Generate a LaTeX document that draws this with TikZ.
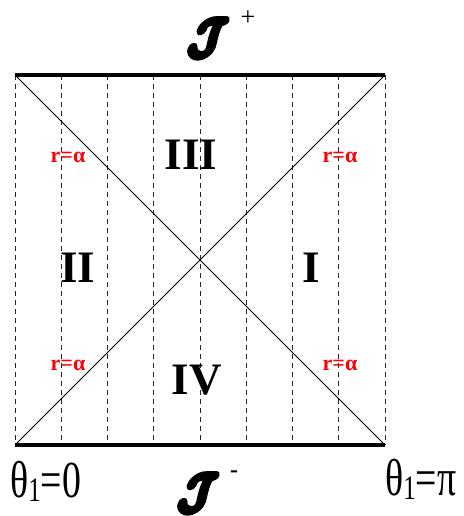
\documentclass[tikz,border=0pt]{standalone}
\usepackage{fontspec}
\setmainfont{Liberation Serif}
\usetikzlibrary{calc}
\newcommand{\scrJ}{\special{pdf:literal direct 2 Tr 1.1 w 1 j}\scalebox{4.3}[4.9]{\boldmath$\mathcal{J}$}\special{pdf:literal direct 0 Tr}}
\begin{document}
\begin{tikzpicture}[x=1pt,y=-1pt,
  edgeline/.style={line width=3.5pt},
  diag/.style={line width=0.9pt},
  gridline/.style={line width=0.8pt,dash pattern=on 5pt off 4pt,black!85},
  region/.style={font=\fontsize{45}{45}\selectfont\bfseries,inner sep=0pt},
  rlabel/.style={font=\fontsize{22}{22}\selectfont\bfseries,text=red,inner sep=0pt},
  thetalabel/.style={inner sep=0pt,anchor=base west},
  scri/.style={inner sep=0pt}]
\useasboundingbox (0,0) rectangle (463,516);
\coordinate (tl) at (15,75);
\coordinate (tr) at (385,75);
\coordinate (bl) at (15,445);
\coordinate (br) at (385,445);
% dashed verticals
\foreach \i in {0,...,8}{
  \coordinate (t\i) at ($(tl)!\i/8!(tr)$);
  \coordinate (b\i) at ($(bl)!\i/8!(br)$);
  \draw[gridline] (t\i) -- (b\i);
}
\draw[diag] (tl) -- (br);
\draw[diag] (tr) -- (bl);
\draw[edgeline] (tl) -- (tr);
\draw[edgeline] (bl) -- (br);
% region labels
\node[region] (r3) at (191,155) {III};
\node[region] (r2) at (78,268) {II};
\node[region] (r1) at (311,268) {I};
\node[region] (r4) at (197,380) {IV};
% r = alpha
\node[rlabel] (a1) at (68,157) {r=α};
\node[rlabel] (a2) at (340,157) {r=α};
\node[rlabel] (a3) at (68,365) {r=α};
\node[rlabel] (a4) at (340,365) {r=α};
% scri
\node[scri] (jp) at (208,38) {\scrJ};
\node[scri] (jpp) at (248,18) {\fontsize{26}{26}\selectfont +};
\node[scri] (jm) at (198,493) {\scrJ};
\node[scri] (jmm) at (234,474) {\fontsize{24}{24}\selectfont\bfseries -};
% theta labels
\node[thetalabel] (th0) at (10,497) {\scalebox{0.86}[1.18]{\fontsize{44}{44}\selectfont θ\raisebox{-4pt}{\fontsize{29}{29}\selectfont 1}=0}};
\node[thetalabel] (thpi) at (385,495) {\scalebox{0.86}[1.18]{\fontsize{44}{44}\selectfont θ\raisebox{-4pt}{\fontsize{29}{29}\selectfont 1}=π}};
\end{tikzpicture}
\end{document}
